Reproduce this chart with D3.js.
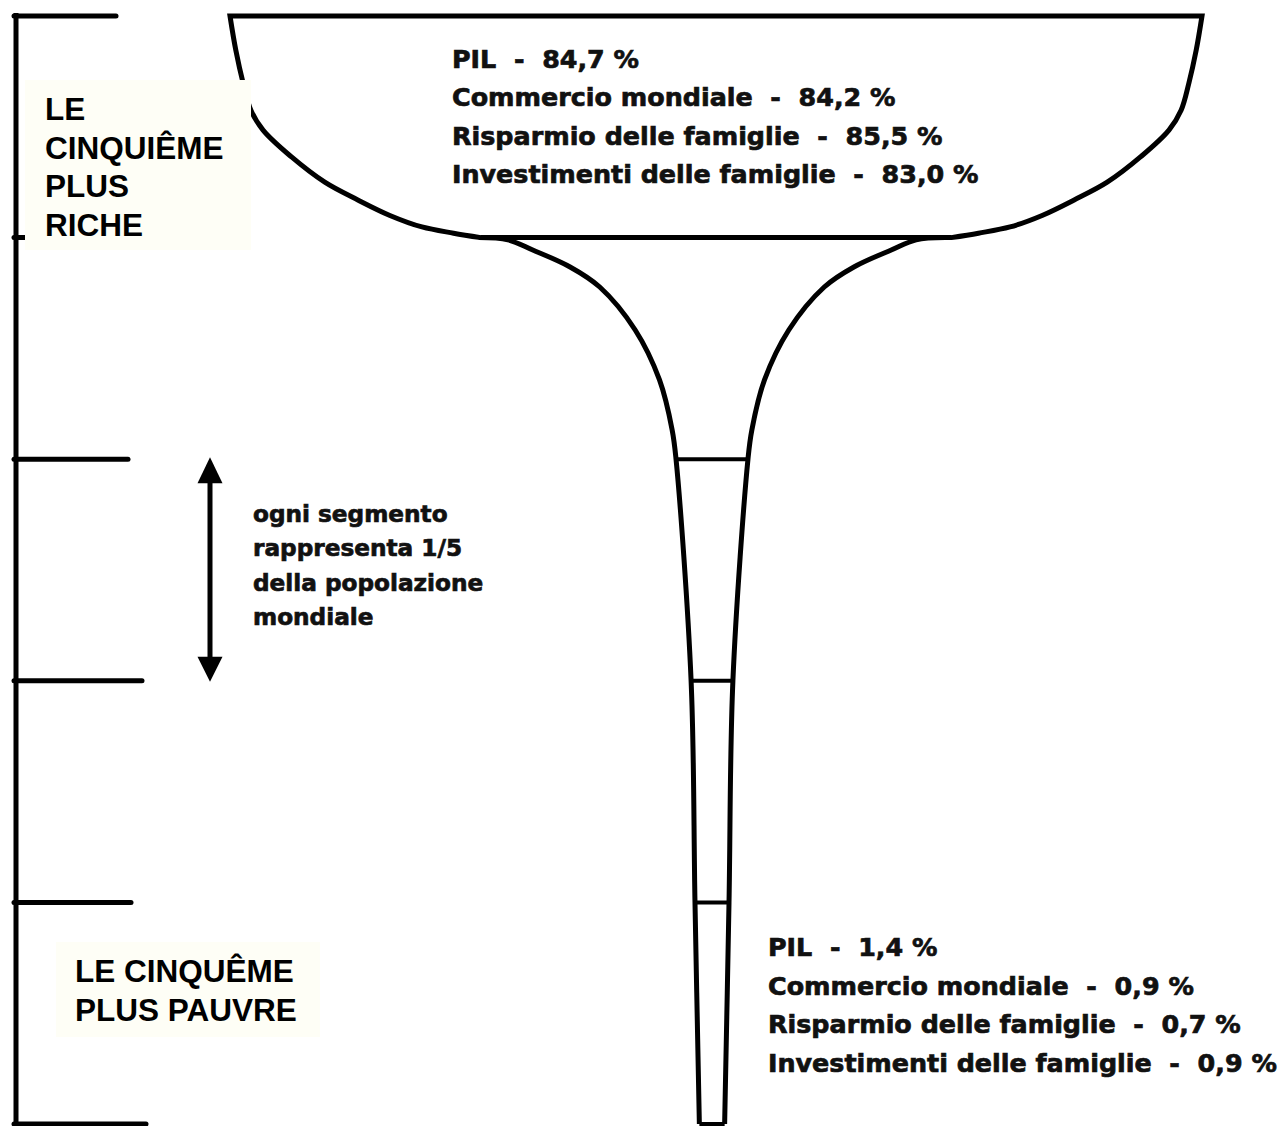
<!DOCTYPE html>
<html>
<head>
<meta charset="utf-8">
<script src="https://cdn.jsdelivr.net/npm/d3@7"></script>
<style>
  body { margin: 0; background: #fff; }
  svg { display: block; }
  .glass-text { font-family: "DejaVu Sans", sans-serif; font-weight: bold; white-space: pre; fill: #111; stroke: #111; stroke-width: 0.7px; }
  .label-text { font-family: "Liberation Sans", Arial, sans-serif; font-weight: bold; fill: #000; }
</style>
</head>
<body>
<div class="chart"></div>
<script>
var indicators = ["PIL", "Commercio mondiale", "Risparmio delle famiglie", "Investimenti delle famiglie"];
var richestShare = [84.7, 84.2, 85.5, 83.0];
var poorestShare = [1.4, 0.9, 0.7, 0.9];
var quintileBounds = [0, 20, 40, 60, 80, 100];
var richLabel = ["LE", "CINQUIÊME", "PLUS", "RICHE"];
var poorLabel = ["LE CINQUÊME", "PLUS PAUVRE"];
var noteLines = ["ogni segmento", "rappresenta 1/5", "della popolazione", "mondiale"];

// glass outline: depth = cumulative population (%), width = half width (% of rim)
var bowlDepth = [0, 3.1, 6.05, 8.5, 10.3, 12.7, 15, 16.6, 18, 19.04, 19.6, 20];
var bowlWidth = [100, 98.8, 97.3, 95.7, 93.2, 87.4, 80.5, 73.7, 67.1, 60.5, 54, 48.4];
var stemDepth = [20, 20.2, 21.1, 22.65, 24.46, 28.34, 32.85, 37.36, 40, 60, 80, 100];
var stemWidth = [48, 42, 37, 29.2, 23.1, 15.8, 10.8, 8.2, 7.4, 4.3, 3.5, 2.6];

const width = 1282;
const height = 1126;
const bowlCx = 716;
const stemCx = 712;
const tickLen = [100, 110, 112, 126, 115, 130];

const y = d3.scaleLinear().domain([0, 100]).range([16, 1124]);
const w = d3.scaleLinear().domain([0, 100]).range([0, 486]);
const fmt = (v) => d3.format(".1f")(v).replace(".", ",");

const sideLine = d3
  .line()
  .curve(d3.curveCatmullRom.alpha(0.5))
  .x((d) => d.x)
  .y((d) => d.y);

//Helper functions
function sidePoints(depths, widths, cx, sign) {
  return depths.map((d, i) => ({ x: cx + sign * w(widths[i]), y: y(d) }));
}

function addSvg(d3ElementClass) {
  return d3
    .select(d3ElementClass)
    .append("svg")
    .attr("width", width)
    .attr("height", height);
}

function drawAxis(svg) {
  svg
    .append("line")
    .attr("x1", 16)
    .attr("x2", 16)
    .attr("y1", y(0) - 3)
    .attr("y2", height)
    .attr("stroke", "#000")
    .attr("stroke-width", 5);

  svg
    .selectAll(".tick")
    .data(quintileBounds)
    .enter()
    .append("line")
    .attr("class", "tick")
    .attr("x1", 14)
    .attr("x2", (d, i) => 16 + tickLen[i])
    .attr("y1", (d) => y(d))
    .attr("y2", (d) => y(d))
    .attr("stroke", "#000")
    .attr("stroke-width", 5)
    .attr("stroke-linecap", "round");
}

function drawBowl(svg) {
  const left = sidePoints(bowlDepth, bowlWidth, bowlCx, -1);
  const right = sidePoints(bowlDepth, bowlWidth, bowlCx, 1).reverse();
  const d = sideLine(left) + sideLine(right).replace(/^M/, "L") + "Z";
  svg
    .append("path")
    .attr("d", d)
    .attr("fill", "#fff")
    .attr("stroke", "#000")
    .attr("stroke-width", 5)
    .attr("stroke-linejoin", "miter");
}

function drawStem(svg) {
  [-1, 1].forEach((sign) => {
    svg
      .append("path")
      .attr("d", sideLine(sidePoints(stemDepth, stemWidth, stemCx, sign)))
      .attr("fill", "none")
      .attr("stroke", "#000")
      .attr("stroke-width", 5);
  });

  const cuts = quintileBounds.filter((q) => q >= 40);
  svg
    .selectAll(".stem-cut")
    .data(cuts)
    .enter()
    .append("line")
    .attr("class", "stem-cut")
    .attr("x1", (d) => stemCx - w(stemWidth[stemDepth.indexOf(d)]))
    .attr("x2", (d) => stemCx + w(stemWidth[stemDepth.indexOf(d)]))
    .attr("y1", (d) => y(d))
    .attr("y2", (d) => y(d))
    .attr("stroke", "#000")
    .attr("stroke-width", 4);
}

function drawShares(svg, values, x, y0, step, size) {
  svg
    .append("g")
    .selectAll("text")
    .data(values)
    .enter()
    .append("text")
    .attr("class", "glass-text")
    .attr("x", x)
    .attr("y", (d, i) => y0 + i * step)
    .attr("font-size", size)
    .text((d, i) => indicators[i] + "  -  " + fmt(d) + " %");
}

function drawLabel(svg, lines, box, x, y0, step) {
  svg
    .append("rect")
    .attr("x", box[0])
    .attr("y", box[1])
    .attr("width", box[2])
    .attr("height", box[3])
    .attr("fill", "#fefef6");
  svg
    .append("g")
    .selectAll("text")
    .data(lines)
    .enter()
    .append("text")
    .attr("class", "label-text")
    .attr("x", x)
    .attr("y", (d, i) => y0 + i * step)
    .attr("font-size", 31.5)
    .text((d) => d);
}

function drawNote(svg) {
  const ax = 210;
  const top = y(quintileBounds[2]);
  const bottom = y(quintileBounds[3]);
  svg
    .append("line")
    .attr("x1", ax)
    .attr("x2", ax)
    .attr("y1", top + 20)
    .attr("y2", bottom - 20)
    .attr("stroke", "#000")
    .attr("stroke-width", 5);
  svg
    .append("path")
    .attr("d", `M${ax},${top - 2}L${ax + 12.5},${top + 24}L${ax - 12.5},${top + 24}Z`)
    .attr("fill", "#000");
  svg
    .append("path")
    .attr("d", `M${ax},${bottom + 1}L${ax + 12.5},${bottom - 24}L${ax - 12.5},${bottom - 24}Z`)
    .attr("fill", "#000");

  svg
    .append("g")
    .selectAll("text")
    .data(noteLines)
    .enter()
    .append("text")
    .attr("class", "glass-text")
    .attr("x", 253)
    .attr("y", (d, i) => 522 + i * 34.3)
    .attr("font-size", 23.2)
    .text((d) => d);
}

const svg = addSvg(".chart");
drawAxis(svg);
drawStem(svg);
drawBowl(svg);
drawShares(svg, richestShare, 452, 68, 38.4, 25.4);
drawShares(svg, poorestShare, 768, 956, 38.5, 25.4);
drawLabel(svg, richLabel, [25, 80, 226, 170], 45, 120, 38.5);
drawLabel(svg, poorLabel, [56, 942, 264, 95], 75, 982, 38.5);
drawNote(svg);
</script>
</body>
</html>
